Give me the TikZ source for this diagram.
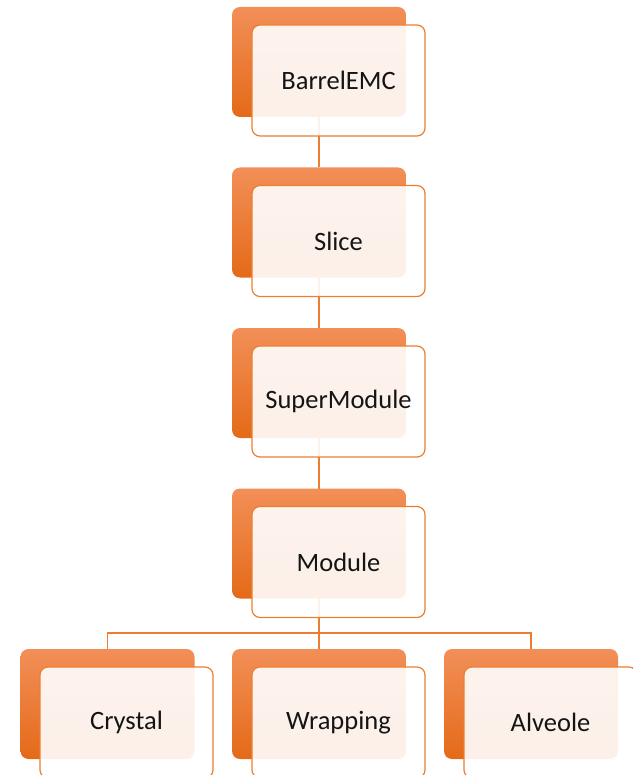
\documentclass[tikz,border=0pt]{standalone}
\usepackage{fontspec}
\setmainfont{Carlito}
\usetikzlibrary{backgrounds}
\definecolor{accent}{RGB}{237,125,49}
\definecolor{shadetop}{RGB}{242,143,88}
\definecolor{shadebot}{RGB}{228,106,24}
\definecolor{textdark}{RGB}{20,20,20}
\begin{document}
\begin{tikzpicture}[x=1pt,y=-1pt,
        back/.style={rectangle,rounded corners=8pt,minimum width=174pt,minimum height=110pt,
            inner sep=0pt,outer sep=0pt,top color=shadetop,bottom color=shadebot},
        front/.style={rectangle,rounded corners=8pt,minimum width=173pt,minimum height=111pt,
            inner sep=0pt,outer sep=0pt,draw=accent,line width=1.2pt,fill=white,fill opacity=0.9,
            text opacity=1,text=textdark,font=\fontsize{26.5}{30}\selectfont},
        link/.style={draw=accent,line width=1.3pt}]
            \useasboundingbox (0,0) rectangle (633,775);
            \clip (0,0) rectangle (633,775);
            \node[back] (barrelback) at (319,62) {};
            \node[front] (barrel) at (338.5,80.5) {BarrelEMC};
            \node[back] (sliceback) at (319,222.5) {};
            \node[front] (slice) at (338.5,241) {Slice};
            \node[back] (superback) at (319,383) {};
            \node[front] (super) at (338.5,401.5) {SuperModule};
            \node[back] (moduleback) at (319,543.5) {};
            \node[front] (module) at (338.5,562) {Module};
            \node[back] (crystalback) at (107.5,704) {};
            \node[front] (crystal) at (126.5,722.5) {Crystal};
            \node[back] (wrappingback) at (319,704) {};
            \node[front] (wrapping) at (338.5,722.5) {Wrapping};
            \node[back] (alveoleback) at (531,704) {};
            \node[front] (alveole) at (550.5,722.5) {Alveole};
            \coordinate (bus) at (319,633);
            \begin{pgfonlayer}{background}
                \draw[link] (barrelback.south) -- (sliceback.north);
                \draw[link] (sliceback.south) -- (superback.north);
                \draw[link] (superback.south) -- (moduleback.north);
                \draw[link] (moduleback.south) -- (bus);
                \draw[link] (bus) -| (crystalback.north);
                \draw[link] (bus) -- (wrappingback.north);
                \draw[link] (bus) -| (alveoleback.north);
            \end{pgfonlayer}
        \end{tikzpicture}
\end{document}
